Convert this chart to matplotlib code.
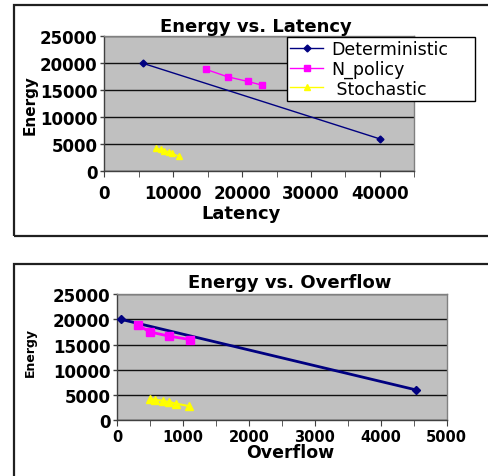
import matplotlib
matplotlib.use("Agg")
import matplotlib.pyplot as plt
from matplotlib.patches import Rectangle
import numpy as np

# values
det_latency = [5600, 40000]
det_overflow = [50, 4540]
det_energy = [20000, 6000]

npol_latency = [14700, 17900, 20800, 22850]
npol_overflow = [310, 490, 790, 1110]
npol_energy = [18900, 17500, 16650, 15970]

sto_latency = [7460, 8190, 8710, 9390, 9780, 10890]
sto_overflow = [496, 572, 689, 790, 892, 1093]
sto_energy = [4300, 4080, 3850, 3600, 3300, 2800]

series_names = ["Deterministic", "N_policy", " Stochastic"]
colors = ["#000080", "#FF00FF", "#FFFF00"]

plt.rcParams['font.family'] = ['DejaVu Sans']

fig = plt.figure(figsize=(4.88, 4.77), dpi=100)
W, H = 488, 477


def fx(px):
    return px / W


def fy(py):
    return 1 - py / H


# outer chart frames (right / bottom edges run off the page)
fig.patches.append(Rectangle((fx(14), fy(237)), 1.2, (237 - 6) / H, transform=fig.transFigure,
                             fill=False, edgecolor="#202020", lw=1.6, clip_on=False))
fig.patches.append(Rectangle((fx(14), -0.2), 1.2, fy(265) + 0.2, transform=fig.transFigure,
                             fill=False, edgecolor="#202020", lw=1.6, clip_on=False))


def style_axes(ax):
    ax.set_facecolor("#C0C0C0")
    for s in ax.spines.values():
        s.set_color("#808080")
        s.set_linewidth(1)
    ax.spines['left'].set_color("#404040")
    ax.spines['bottom'].set_color("#404040")
    ax.set_ylim(0, 25000)
    ax.set_yticks(np.arange(0, 25001, 5000))
    ax.yaxis.grid(True, color="#101010", lw=1)
    ax.set_axisbelow(True)
    ax.tick_params(axis='y', length=3, width=1, color="#404040", pad=2)


# ---- top: Energy vs. Latency ----
ax1 = fig.add_axes([fx(104.3), fy(172.3), 310 / W, 135 / H])
style_axes(ax1)
ax1.set_xlim(0, 45000)
ax1.set_xticks(np.arange(0, 40001, 10000))
ax1.set_xticks(np.arange(0, 45001, 5000), minor=True)
ax1.tick_params(axis='x', which='major', length=4, color="#404040", pad=5)
ax1.tick_params(axis='x', which='minor', length=4, color="#404040")
for lbl in ax1.get_xticklabels() + ax1.get_yticklabels():
    lbl.set_fontweight('bold')
    lbl.set_fontsize(12)

l1, = ax1.plot(det_latency, det_energy, color=colors[0], lw=1, marker='D', ms=3.5, zorder=3)
l2, = ax1.plot(npol_latency, npol_energy, color=colors[1], lw=1, marker='s', ms=4, zorder=3)
l3, = ax1.plot(sto_latency, sto_energy, color=colors[2], lw=1, marker='^', ms=4.5, zorder=3)

fig.legend([l1, l2, l3], series_names, loc='upper left',
           bbox_to_anchor=(fx(287), fy(103), 188 / W, 65 / H), bbox_transform=fig.transFigure,
           mode='expand', borderaxespad=0, fontsize=12.5, fancybox=False, framealpha=1,
           edgecolor='black', handlelength=1.9, handletextpad=0.45, borderpad=0.2,
           labelspacing=0.08)
fig.legends[0].get_frame().set_linewidth(1)

fig.text(fx(255.5), fy(32.5), "Energy vs. Latency", ha='center', va='baseline',
         fontsize=13, fontweight='bold')
fig.text(fx(241.5), fy(219), "Latency", ha='center', va='baseline',
         fontsize=13, fontweight='bold')
fig.text(fx(30), fy(105), "Energy", ha='center', va='center', rotation=90,
         fontsize=11, fontweight='bold')

# ---- bottom: Energy vs. Overflow ----
ax2 = fig.add_axes([fx(117.3), fy(421.3), 329.4 / W, 126.3 / H])
style_axes(ax2)
ax2.set_xlim(0, 5000)
ax2.set_xticks(np.arange(0, 5001, 1000))
ax2.set_xticks(np.arange(0, 5001, 500), minor=True)
ax2.tick_params(axis='x', which='both', length=4, color="#404040", pad=2)
for lbl in ax2.get_xticklabels():
    lbl.set_fontweight('bold')
    lbl.set_fontsize(10.5)
for lbl in ax2.get_yticklabels():
    lbl.set_fontweight('bold')
    lbl.set_fontsize(12)

ax2.plot(det_overflow, det_energy, color=colors[0], lw=2, marker='D', ms=4, zorder=3)
ax2.plot(npol_overflow, npol_energy, color=colors[1], lw=2, marker='s', ms=5.5, zorder=3)
ax2.plot(sto_overflow, sto_energy, color=colors[2], lw=1.5, marker='^', ms=5.5, zorder=3)

fig.text(fx(290), fy(288), "Energy vs. Overflow", ha='center', va='baseline',
         fontsize=13, fontweight='bold')
fig.text(fx(290), fy(458), "Overflow", ha='center', va='baseline',
         fontsize=12.5, fontweight='bold')
fig.text(fx(30), fy(352.5), "Energy", ha='center', va='center', rotation=90,
         fontsize=9, fontweight='bold')

fig.savefig("out.png", dpi=100)
